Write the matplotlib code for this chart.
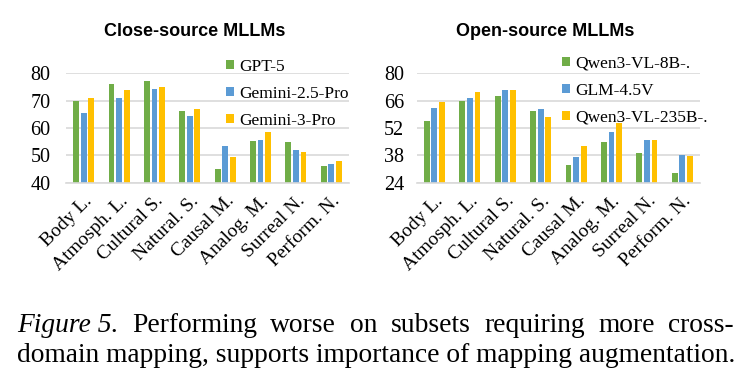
import matplotlib
matplotlib.use("Agg")
import matplotlib.pyplot as plt
import numpy as np

categories = ["Body L.", "Atmosph. L.", "Cultural S.", "Natural. S.",
              "Causal M.", "Analog. M.", "Surreal N.", "Perform. N."]

close_names = ["GPT-5", "Gemini-2.5-Pro", "Gemini-3-Pro"]
gpt5 = [69.8, 76.1, 77.2, 66.3, 44.9, 55.4, 54.8, 46.0]
gemini25 = [65.4, 71.1, 74.1, 64.3, 53.4, 55.6, 52.1, 46.8]
gemini3 = [70.9, 73.8, 75.0, 66.8, 49.4, 58.7, 51.1, 48.0]
close_ticks = [40, 50, 60, 70, 80]

open_names = ["Qwen3-VL-8B-.", "GLM-4.5V", "Qwen3-VL-235B-."]
qwen8b = [55.8, 65.8, 68.6, 60.5, 33.0, 44.8, 39.0, 29.0]
glm45v = [62.4, 67.5, 71.6, 61.7, 37.3, 50.0, 46.0, 38.2]
qwen235b = [65.1, 70.3, 71.6, 57.8, 43.0, 54.4, 46.0, 37.8]
open_ticks = [24, 38, 52, 66, 80]

colors = ["#70AD47", "#5B9BD5", "#FFC000"]
grid_color = "#D9D9D9"
serif = "Liberation Serif"

W, H = 739, 387
fig = plt.figure(figsize=(W / 100, H / 100), dpi=100)


def draw_panel(rect, series, names, ticks, title, title_x, legend_xy, ypad):
    ax = fig.add_axes(rect)
    x = np.arange(len(categories))
    bars = []
    for k, vals in enumerate(series):
        b = ax.bar(x + (k - 1) * 0.215, vals, width=0.165, color=colors[k],
                   label=names[k], zorder=2)
        bars.append(b)
    ax.set_xlim(-0.5, len(categories) - 0.5)
    ax.set_ylim(ticks[0], ticks[-1])
    ax.set_yticks(ticks)
    ax.yaxis.grid(True, color=grid_color, linewidth=1.2, zorder=0)
    ax.set_axisbelow(True)
    for s in ["top", "right", "left"]:
        ax.spines[s].set_visible(False)
    ax.spines["bottom"].set_color(grid_color)
    ax.spines["bottom"].set_linewidth(1.2)
    ax.tick_params(length=0)
    ax.tick_params(axis="y", pad=ypad)
    ax.tick_params(axis="x", pad=7)
    ax.set_xticks(x)
    ax.set_xticklabels(categories, rotation=45, ha="right",
                       rotation_mode="anchor", family=serif, fontsize=14)
    for lbl in ax.get_yticklabels():
        lbl.set_family(serif)
        lbl.set_fontsize(14.5)
    ax.legend(handles=bars, loc="upper left",
              bbox_to_anchor=legend_xy, bbox_transform=fig.transFigure,
              frameon=False, borderpad=0, borderaxespad=0,
              handlelength=0.45, handleheight=0.45, handletextpad=0.3,
              labelspacing=0.62, prop={"family": serif, "size": 12.5})
    fig.text(title_x, 1 - 32 / H, title, ha="center", va="center",
             family="Liberation Sans", weight="bold", fontsize=13)
    return ax


draw_panel([66 / W, 1 - 182.7 / H, 283 / W, 109.4 / H],
           [gpt5, gemini25, gemini3], close_names, close_ticks,
           "Close-source MLLMs", 195 / W, (226 / W, 1 - 59 / H), 11)
draw_panel([416.7 / W, 1 - 182.7 / H, 283.3 / W, 109.4 / H],
           [qwen8b, glm45v, qwen235b], open_names, open_ticks,
           "Open-source MLLMs", 545 / W, (562 / W, 1 - 56 / H), 9)

# caption, first line justified
renderer = fig.canvas.get_renderer()
cap_size = 19.8
line1 = [("Figure 5.", "italic"), ("Performing", "normal"), ("worse", "normal"),
         ("on", "normal"), ("subsets", "normal"), ("requiring", "normal"),
         ("more", "normal"), ("cross-", "normal")]
x0, x1 = 17, 734
texts = [fig.text(0, 1 - 325 / H, w, family=serif, style=st, fontsize=cap_size,
                  va="center") for w, st in line1]
widths = [t.get_window_extent(renderer).width for t in texts]
gap = (x1 - x0 - sum(widths)) / (len(texts) - 1)
pos = x0
for t, wd in zip(texts, widths):
    t.set_x(pos / W)
    pos += wd + gap
fig.text(x0 / W, 1 - 356 / H,
         "domain mapping, supports importance of mapping augmentation.",
         family=serif, fontsize=cap_size, va="center")

fig.savefig("out.png", dpi=100)
